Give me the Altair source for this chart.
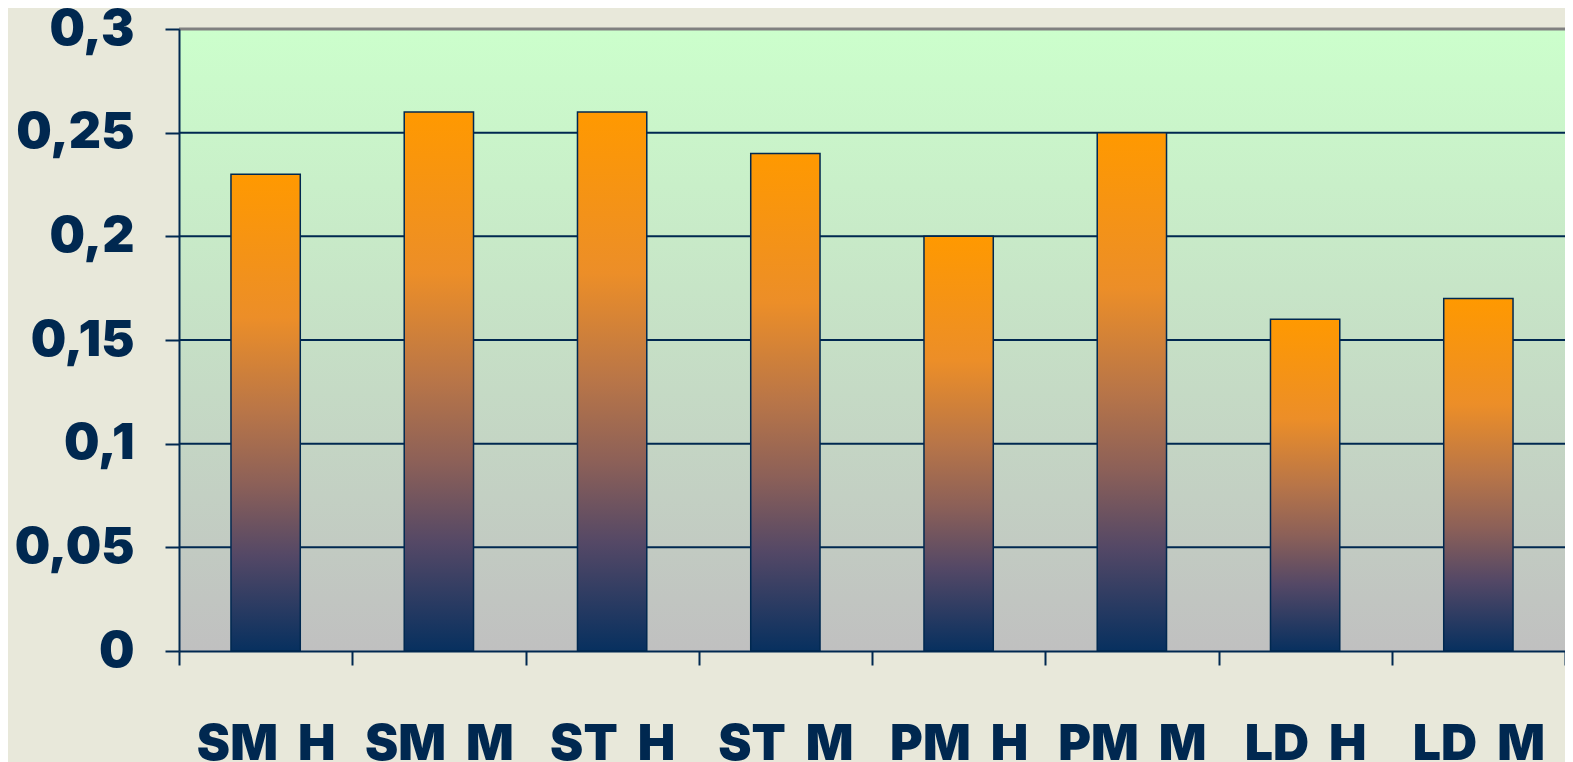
import altair as alt
import pandas as pd

categories = ["SM\u00a0 H", "SM\u00a0 M", "ST\u00a0 H", "ST\u00a0 M", "PM\u00a0 H", "PM\u00a0 M", "LD\u00a0 H", "LD\u00a0 M"]
values = [0.23, 0.26, 0.26, 0.24, 0.20, 0.25, 0.16, 0.17]
grid_values = [0.05, 0.10, 0.15, 0.20, 0.25]
y_ticks = [0, 0.05, 0.10, 0.15, 0.20, 0.25, 0.30]

W, H = 1386, 622
NAVY = "#002850"
FONT = "Inter"

df = pd.DataFrame({"cat": categories, "val": values})
gdf = pd.DataFrame({"g": grid_values})
one = pd.DataFrame({"a": [0]})

xscale = alt.Scale(domain=categories, paddingInner=0, paddingOuter=0)
yscale = alt.Scale(domain=[0, 0.3], nice=False)

bg = alt.Chart(one).mark_rect(
    fill=alt.Gradient(
        gradient="linear",
        stops=[alt.GradientStop(color="#CCFFCC", offset=0), alt.GradientStop(color="#C0C0C0", offset=1)],
        x1=0, x2=0, y1=0, y2=1,
    )
).encode(x=alt.value(0), x2=alt.value(W), y=alt.value(0), y2=alt.value(H))

grid = alt.Chart(gdf).mark_rule(color=NAVY, strokeWidth=2).encode(
    y=alt.Y("g:Q", scale=yscale)
)

bars = alt.Chart(df).mark_bar(
    width=alt.RelativeBandSize(0.4),
    fill=alt.Gradient(
        gradient="linear",
        stops=[
            alt.GradientStop(color="#FF9900", offset=0),
            alt.GradientStop(color="#EC8E28", offset=0.3),
            alt.GradientStop(color="#B87548", offset=0.5),
            alt.GradientStop(color="#8C6058", offset=0.65),
            alt.GradientStop(color="#544866", offset=0.8),
            alt.GradientStop(color="#07305F", offset=1),
        ],
        x1=0, x2=0, y1=0, y2=1,
    ),
    stroke=NAVY,
    strokeWidth=1.5,
).encode(
    x=alt.X("cat:N", scale=xscale, sort=categories, axis=alt.Axis(
        title=None, labelAngle=0, tickBand="extent", tickSize=14, tickWidth=2,
        tickColor=NAVY, domainColor=NAVY, domainWidth=2, labelPadding=54,
        labelFont=FONT, labelFontSize=50, labelFontWeight=900, labelColor=NAVY,
        grid=False, zindex=1,
    )),
    y=alt.Y("val:Q", scale=yscale, axis=alt.Axis(
        title=None, values=y_ticks, tickSize=14, tickWidth=2, tickColor=NAVY,
        domainColor=NAVY, domainWidth=2, labelPadding=31,
        labelExpr="replace(toString(datum.value), '.', ',')",
        labelFont=FONT, labelFontSize=50, labelFontWeight=900, labelColor=NAVY,
        grid=False, zindex=1,
    )),
)

top = alt.Chart(one).mark_rule(color="#808080", strokeWidth=3).encode(
    x=alt.value(0), x2=alt.value(W), y=alt.value(0)
)

chart = alt.layer(bg, grid, bars, top).properties(
    width=W, height=H,
    autosize=alt.AutoSizeParams(type="none"),
    padding={"left": 171, "top": 21, "right": 0, "bottom": 111},
    background="#E8E8DA",
).configure_view(stroke=None)

chart.save("out.html", embed_options={"renderer": "svg", "actions": False})
